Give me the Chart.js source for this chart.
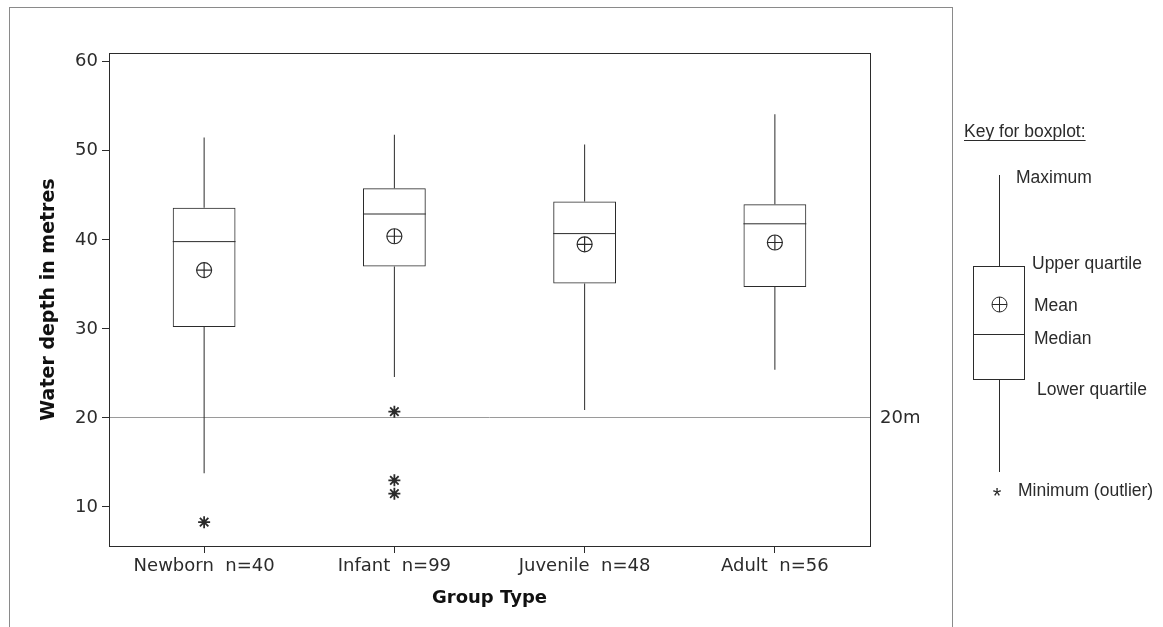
<!DOCTYPE html>
<html>
<head>
<meta charset="utf-8">
<script src="https://cdn.jsdelivr.net/npm/chart.js@4.4.1/dist/chart.umd.min.js"></script>
<style>
body { margin: 0; background: #fff; overflow: hidden; }
#wrap { position: relative; width: 1163px; height: 627px; }
#frame { position: absolute; left: 9px; top: 7px; width: 942px; height: 700px; border: 1px solid #8a8a8a; pointer-events: none; }
</style>
</head>
<body>
<div id="wrap">
  <canvas id="depth-chart"></canvas>
  <div id="frame"></div>
</div>
<script>
// values
const groups = ['Newborn  n=40', 'Infant  n=99', 'Juvenile  n=48', 'Adult  n=56'];
const maxima = [51.5, 51.8, 50.7, 54.1];
const upperQuartiles = [43.6, 45.8, 44.3, 44.0];
const medians = [39.8, 42.9, 40.7, 41.8];
const means = [36.6, 40.4, 39.5, 39.7];
const lowerQuartiles = [30.2, 37.0, 35.1, 34.7];
const minima = [13.8, 24.6, 20.9, 25.4];
const outlierGroups = ['Newborn  n=40', 'Infant  n=99', 'Infant  n=99', 'Infant  n=99'];
const outlierValues = [8.3, 20.7, 13.0, 11.5];
const yTicks = [10, 20, 30, 40, 50, 60];
const refDepth = 20;

const lineColor = '#2b2b2b';
const boxShare = 0.33;
const numFont = { family: '"DejaVu Sans", Verdana, sans-serif', size: 18 };
const boldFont = { family: '"DejaVu Sans", Verdana, sans-serif', size: 18, weight: 'bold' };

function halfBox(ctx)
{
    const x = ctx.chart.scales.x;
    return x.width / groups.length * boxShare / 2;
}

const plotFrame = {
    id: 'plotFrame',
    afterDraw(chart) {
        const {ctx, chartArea: a} = chart;
        ctx.save();
        ctx.strokeStyle = lineColor;
        ctx.lineWidth = 1;
        ctx.strokeRect(Math.round(a.left) + 0.5, Math.round(a.top) + 0.5,
            Math.round(a.right - a.left), Math.round(a.bottom - a.top));
        ctx.restore();
    }
};

// the "Key for boxplot" panel on the right
const boxKey = {
    id: 'boxKey',
    afterDraw(chart) {
        const ctx = chart.ctx;
        ctx.save();
        ctx.strokeStyle = lineColor;
        ctx.fillStyle = lineColor;
        ctx.lineWidth = 1;
        ctx.font = '17.5px "Liberation Sans", Arial, sans-serif';
        ctx.textBaseline = 'alphabetic';
        ctx.textAlign = 'left';

        ctx.fillText('Key for boxplot:', 964, 137);
        const w = ctx.measureText('Key for boxplot:').width;
        ctx.beginPath();
        ctx.moveTo(964, 140.5); ctx.lineTo(964 + w, 140.5);
        ctx.stroke();

        ctx.beginPath();
        ctx.moveTo(999.5, 175); ctx.lineTo(999.5, 266);
        ctx.moveTo(999.5, 379); ctx.lineTo(999.5, 472);
        ctx.moveTo(973.5, 334.5); ctx.lineTo(1024.5, 334.5);
        ctx.stroke();
        ctx.strokeRect(973.5, 266.5, 51, 113);

        ctx.beginPath();
        ctx.arc(999.5, 304.5, 7.5, 0, Math.PI * 2);
        ctx.moveTo(992, 304.5); ctx.lineTo(1007, 304.5);
        ctx.moveTo(999.5, 297); ctx.lineTo(999.5, 312);
        ctx.stroke();

        ctx.fillText('Maximum', 1016, 183);
        ctx.fillText('Upper quartile', 1032, 269);
        ctx.fillText('Mean', 1034, 311);
        ctx.fillText('Median', 1034, 344);
        ctx.fillText('Lower quartile', 1037, 395);
        ctx.fillText('Minimum (outlier)', 1018, 496);
        ctx.font = '22px "Liberation Sans", Arial, sans-serif';
        ctx.textAlign = 'center';
        ctx.fillText('*', 997, 503);
        ctx.restore();
    }
};

const pointSet = (label, data, style, radius, width) => ({
    type: 'line',
    label: label,
    data: data,
    showLine: false,
    pointStyle: style,
    pointRadius: radius,
    pointHoverRadius: radius,
    pointBorderColor: lineColor,
    pointBackgroundColor: 'rgba(0,0,0,0)',
    pointBorderWidth: width
});

new Chart(document.getElementById('depth-chart'), {
    type: 'bar',
    data: {
        labels: groups,
        datasets: [
            {
                label: 'Upper whisker',
                data: groups.map((g, i) => [upperQuartiles[i], maxima[i]]),
                backgroundColor: lineColor,
                borderWidth: 0,
                barThickness: 1,
                grouped: false,
                inflateAmount: 0
            },
            {
                label: 'Lower whisker',
                data: groups.map((g, i) => [minima[i], lowerQuartiles[i]]),
                backgroundColor: lineColor,
                borderWidth: 0,
                barThickness: 1,
                grouped: false,
                inflateAmount: 0
            },
            {
                label: 'Box',
                data: groups.map((g, i) => [lowerQuartiles[i], upperQuartiles[i]]),
                backgroundColor: 'rgba(255,255,255,0)',
                borderColor: lineColor,
                borderWidth: 1,
                borderSkipped: false,
                categoryPercentage: 1,
                barPercentage: boxShare,
                grouped: false,
                inflateAmount: 0
            },
            pointSet('Median', medians, 'line', halfBox, 1),
            pointSet('Mean', means, 'circle', 7.5, 1.2),
            pointSet('Mean cross', means, 'cross', 7.5, 1.2),
            pointSet('Outlier', outlierGroups.map((g, i) => ({ x: g, y: outlierValues[i] })), 'star', 6, 1.8)
        ]
    },
    options: {
        responsive: true,
        maintainAspectRatio: false,
        animation: false,
        layout: { padding: { left: 0, top: 53, right: 233, bottom: 0 } },
        plugins: {
            legend: { display: false },
            tooltip: { enabled: false }
        },
        scales: {
            x: {
                type: 'category',
                offset: true,
                grid: { offset: false, drawOnChartArea: false, drawTicks: true, tickLength: 7, color: lineColor },
                border: { display: false },
                ticks: { color: lineColor, font: numFont, padding: 3, maxRotation: 0, autoSkip: false },
                title: { display: true, text: 'Group Type', color: '#111', font: boldFont, padding: { top: 0, bottom: 18 } },
                afterFit: (scale) => { scale.height = 81; }
            },
            y: {
                type: 'linear',
                position: 'left',
                min: 5.62,
                max: 60.98,
                afterBuildTicks: (scale) => { scale.ticks = yTicks.map(v => ({ value: v })); },
                grid: { drawOnChartArea: false, drawTicks: true, tickLength: 7, color: lineColor },
                border: { display: false },
                ticks: { color: lineColor, font: numFont, padding: 4 },
                title: { display: true, text: 'Water depth in metres', color: '#111', font: { family: boldFont.family, size: 19, weight: 'bold' }, padding: { top: 38, bottom: 0 } },
                afterFit: (scale) => { scale.width = 109; }
            },
            y2: {
                type: 'linear',
                position: 'right',
                min: 5.62,
                max: 60.98,
                afterBuildTicks: (scale) => { scale.ticks = [{ value: refDepth }]; },
                grid: { drawOnChartArea: true, drawTicks: false, color: '#9a9a9a' },
                border: { display: false },
                ticks: { color: lineColor, font: numFont, padding: 10, callback: (v) => v + 'm' },
                afterFit: (scale) => { scale.width = 60; }
            }
        }
    },
    plugins: [plotFrame, boxKey]
});
</script>
</body>
</html>
